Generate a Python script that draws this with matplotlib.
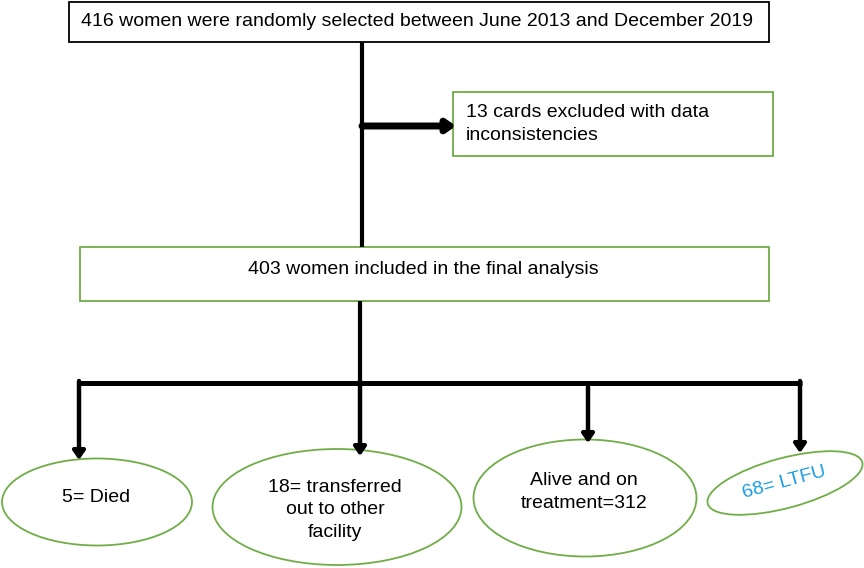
import matplotlib
matplotlib.use("Agg")
import matplotlib.pyplot as plt
from matplotlib.patches import Rectangle, Ellipse

plt.rcParams['font.family'] = ['Liberation Sans', 'DejaVu Sans']

# Flowchart content
top_label = "416 women were randomly selected between June 2013 and December 2019"
excluded_label = "13 cards excluded with data\ninconsistencies"
included_label = "403 women included in the final analysis"
outcome_labels = ["5= Died", "18= transferred\nout to other\nfacility",
                  "Alive and on\ntreatment=312", "68= LTFU"]

green = '#70AD47'
blue = '#1B9DE2'

fig = plt.figure(figsize=(8.64, 5.68), dpi=100)
ax = fig.add_axes([0, 0, 1, 1])
ax.set_xlim(0, 864)
ax.set_ylim(568, 0)
ax.axis('off')

# Boxes
ax.add_patch(Rectangle((69, 2), 700, 40, fill=False, ec='black', lw=1.3))
ax.text(417, 22, top_label, ha='center', va='center', fontsize=14)

ax.add_patch(Rectangle((453, 92), 320, 64, fill=False, ec=green, lw=1.3))
ax.text(466, 124, excluded_label, ha='left', va='center', fontsize=14,
        linespacing=1.45)

ax.add_patch(Rectangle((80, 247), 689, 54, fill=False, ec=green, lw=1.3))
ax.text(423, 269, included_label, ha='center', va='center', fontsize=14)

# Connector lines
ax.plot([362, 362], [42, 247], color='black', lw=3, solid_capstyle='butt')
ax.plot([360, 360], [301, 383], color='black', lw=3, solid_capstyle='butt')
ax.plot([77, 802], [383, 383], color='black', lw=3.6, solid_capstyle='butt')

arrow_kw = dict(arrowstyle='-|>,head_length=0.5,head_width=0.35', color='black',
                shrinkA=0, shrinkB=0)
ax.annotate('', xy=(456, 126), xytext=(362, 126),
            arrowprops=dict(arrow_kw, lw=5))

# Down arrows to outcomes
arrows_x = [79, 360, 588, 800]
arrows_start = [381, 381, 387, 381]
arrows_end = [460, 456, 443, 453]
for x, y0, y1 in zip(arrows_x, arrows_start, arrows_end):
    ax.annotate('', xy=(x, y1), xytext=(x, y0),
                arrowprops=dict(arrow_kw, lw=3.2))

# Outcome ellipses
ell_centers = [(97, 502), (337, 507), (585, 498), (785, 483)]
ell_sizes = [(190, 87), (249, 116), (223, 117), (160, 50)]
ell_angles = [0, 0, 0, -15]
text_centers = [(96, 498), (335, 510), (584, 492), (784, 483)]
text_colors = ['black', 'black', 'black', blue]

for (cx, cy), (w, h), ang, (tx, ty), lab, col in zip(
        ell_centers, ell_sizes, ell_angles, text_centers, outcome_labels, text_colors):
    ax.add_patch(Ellipse((cx, cy), w, h, angle=ang, fill=False, ec=green, lw=1.3))
    ax.text(tx, ty, lab, ha='center', va='center', fontsize=14, color=col,
            rotation=-ang, rotation_mode='anchor', linespacing=1.45)

fig.savefig('out.png', dpi=100)
